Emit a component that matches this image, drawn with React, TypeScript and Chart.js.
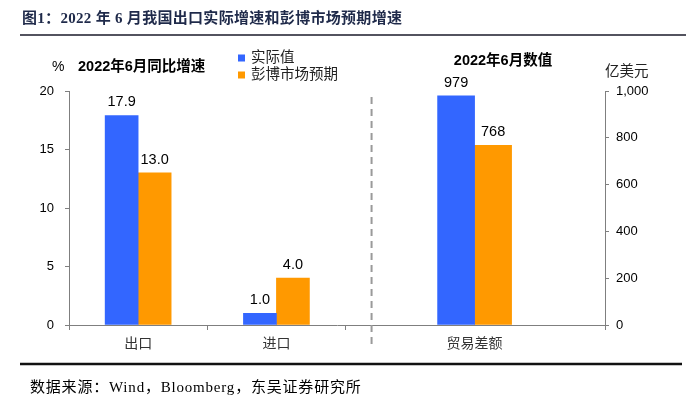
import React, { useEffect, useRef } from "react";
import { Chart, registerables } from "chart.js";

Chart.register(...registerables);

// ---- data ----
const leftCategories = ["出口", "进口"];
const rightCategories = ["贸易差额"];
const seriesNames = ["实际值", "彭博市场预期"];
const actualGrowth = [17.9, 1.0];
const expectedGrowth = [13.0, 4.0];
const actualBalance = [979];
const expectedBalance = [768];
const leftTickValues = [0, 5, 10, 15, 20];
const rightTickValues = [0, 200, 400, 600, 800, 1000];
const titleText = "图1：2022 年 6 月我国出口实际增速和彭博市场预期增速";
const leftSubtitle = "2022年6月同比增速";
const rightSubtitle = "2022年6月数值";
const leftUnit = "%";
const rightUnit = "亿美元";
const sourceText = "数据来源：Wind，Bloomberg，东吴证券研究所";

// ---- layout (index-axis units) ----
const X_MAX = 3.876;
const RIGHT_CENTER = 2.933;
const DIVIDER_X = 2.188;

const BLUE = "#3366FF";
const ORANGE = "#FF9900";
const AXIS = "#7f7f7f";
const SANS = '"Liberation Sans", Arial, "Noto Sans CJK SC", sans-serif';
const SERIF = '"Liberation Serif", "Times New Roman", "Noto Sans CJK SC", serif';

const decorPlugin = {
  id: "decor",
  afterDraw(chart: any) {
    const ctx = chart.ctx as CanvasRenderingContext2D;
    const xs = chart.scales.x;
    const ya = chart.scales.y;
    ctx.save();

    // title
    ctx.fillStyle = "#1F2A4A";
    ctx.font = `bold 15px ${SERIF}`;
    ctx.textAlign = "left";
    ctx.textBaseline = "middle";
    (ctx as any).letterSpacing = "0.3px";
    ctx.fillText(titleText, 22, 19);
    (ctx as any).letterSpacing = "0px";
    ctx.strokeStyle = "#1a1a2a";
    ctx.lineWidth = 1.6;
    ctx.beginPath();
    ctx.moveTo(20, 35);
    ctx.lineTo(686, 35);
    ctx.stroke();

    // bottom rule + source
    ctx.strokeStyle = "#111";
    ctx.lineWidth = 2.5;
    ctx.beginPath();
    ctx.moveTo(20, 364);
    ctx.lineTo(682, 364);
    ctx.stroke();
    ctx.fillStyle = "#000";
    ctx.font = `15px ${SERIF}`;
    (ctx as any).letterSpacing = "0.8px";
    ctx.fillText(sourceText, 30, 388);
    (ctx as any).letterSpacing = "0px";

    // subtitles & units
    ctx.fillStyle = "#000";
    ctx.font = `14px ${SANS}`;
    ctx.fillText(leftUnit, 52, 67);
    ctx.font = `bold 14.5px ${SANS}`;
    ctx.fillText(leftSubtitle, 78, 67);
    ctx.textAlign = "center";
    ctx.fillText(rightSubtitle, 503, 61);
    ctx.font = `14.5px ${SANS}`;
    ctx.fillStyle = "#222";
    ctx.textAlign = "left";
    ctx.fillText(rightUnit, 605, 72);

    // legend
    const legendColors = [BLUE, ORANGE];
    const legendY = [58, 75];
    seriesNames.forEach((name, i) => {
      ctx.fillStyle = legendColors[i];
      ctx.fillRect(238, legendY[i] - 3.5, 7, 7);
      ctx.fillStyle = "#222";
      ctx.font = `14.5px ${SANS}`;
      ctx.textAlign = "left";
      ctx.fillText(name, 251, legendY[i]);
    });

    // divider
    const dx = xs.getPixelForValue(DIVIDER_X);
    ctx.strokeStyle = "#9a9a9a";
    ctx.lineWidth = 2;
    ctx.setLineDash([7, 5]);
    ctx.beginPath();
    ctx.moveTo(dx, 97);
    ctx.lineTo(dx, 347);
    ctx.stroke();
    ctx.setLineDash([]);

    // category labels
    ctx.fillStyle = "#333";
    ctx.font = `14px ${SANS}`;
    ctx.textAlign = "center";
    const labelY = ya.bottom + 19;
    leftCategories.forEach((c, i) => {
      ctx.fillText(c, xs.getPixelForValue(i + 0.5), labelY);
    });
    rightCategories.forEach((c) => {
      ctx.fillText(c, xs.getPixelForValue(RIGHT_CENTER), labelY);
    });

    // value labels
    ctx.fillStyle = "#000";
    ctx.font = `14.5px ${SANS}`;
    ctx.textBaseline = "bottom";
    chart.data.datasets.forEach((ds: any, di: number) => {
      const meta = chart.getDatasetMeta(di);
      meta.data.forEach((el: any, j: number) => {
        const v = ds.data[j].y;
        const txt = ds.yAxisID === "y" ? v.toFixed(1) : String(Math.round(v));
        ctx.fillText(txt, el.x, el.y - 6);
      });
    });

    ctx.restore();
  },
};

export default function App() {
  const ref = useRef<HTMLCanvasElement>(null);
  useEffect(() => {
    if (!ref.current) return;
    const leftPts = (vals: number[]) => vals.map((y, i) => ({ x: i + 0.5, y }));
    const rightPts = (vals: number[]) => vals.map((y) => ({ x: RIGHT_CENTER, y }));
    const chart = new Chart(ref.current, {
      type: "bar",
      data: {
        datasets: [
          { label: seriesNames[0], data: leftPts(actualGrowth), backgroundColor: BLUE, yAxisID: "y", stack: "a", barThickness: 33 },
          { label: seriesNames[1], data: leftPts(expectedGrowth), backgroundColor: ORANGE, yAxisID: "y", stack: "b", barThickness: 33 },
          { label: seriesNames[0], data: rightPts(actualBalance), backgroundColor: BLUE, yAxisID: "y1", stack: "a", barThickness: 37 },
          { label: seriesNames[1], data: rightPts(expectedBalance), backgroundColor: ORANGE, yAxisID: "y1", stack: "b", barThickness: 37 },
        ] as any,
      },
      options: {
        responsive: false,
        animation: false,
        layout: { padding: { top: 91, left: 0, right: 0, bottom: 0 } },
        plugins: { legend: { display: false }, tooltip: { enabled: false } },
        scales: {
          x: {
            type: "linear",
            offset: false,
            min: 0,
            max: X_MAX,
            afterBuildTicks: (s: any) => {
              s.ticks = [0, 1, 2, X_MAX].map((value) => ({ value }));
            },
            afterFit: (s: any) => { s.height = 71; },
            ticks: { display: false },
            grid: { offset: false, drawOnChartArea: false, drawTicks: true, tickLength: 5, color: AXIS },
            border: { display: true, color: AXIS, width: 1 },
          },
          y: {
            type: "linear",
            position: "left",
            stacked: false,
            min: 0,
            max: 20,
            afterBuildTicks: (s: any) => {
              s.ticks = leftTickValues.map((value) => ({ value }));
            },
            afterFit: (s: any) => { s.width = 69; },
            ticks: { color: "#000", font: { family: SANS, size: 13 }, padding: 11 },
            grid: { drawOnChartArea: false, drawTicks: true, tickLength: 4, color: AXIS },
            border: { display: true, color: AXIS, width: 1 },
          },
          y1: {
            type: "linear",
            position: "right",
            stacked: false,
            min: 0,
            max: 1000,
            afterBuildTicks: (s: any) => {
              s.ticks = rightTickValues.map((value) => ({ value }));
            },
            afterFit: (s: any) => { s.width = 84; },
            ticks: {
              color: "#000",
              font: { family: SANS, size: 13 },
              padding: 7,
              callback: (v: any) => Number(v).toLocaleString("en-US"),
            },
            grid: { drawOnChartArea: false, drawTicks: true, tickLength: 4, color: AXIS },
            border: { display: true, color: AXIS, width: 1 },
          },
        },
      } as any,
      plugins: [decorPlugin],
    });
    return () => chart.destroy();
  }, []);
  return (
    <div style={{ position: "absolute", left: 0, top: 0, width: 689, height: 396, background: "#fff" }}>
      <canvas ref={ref} width={689} height={396} style={{ display: "block" }} />
    </div>
  );
}
